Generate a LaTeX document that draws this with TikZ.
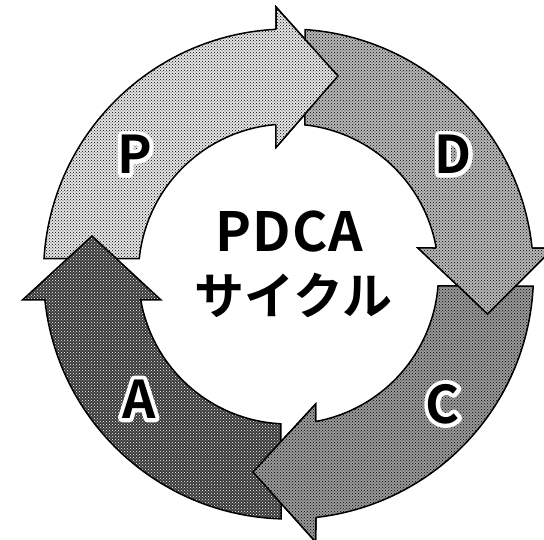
\documentclass[tikz,border=0pt]{standalone}
\usepackage{fontspec}
\newfontfamily\jpfont{Noto Sans CJK JP}[BoldFont={Noto Sans CJK JP Bold}]
\newfontfamily\jpwide{Noto Sans CJK JP}[BoldFont={Noto Sans CJK JP Bold}, LetterSpace=2]
\usetikzlibrary{patterns}

\definecolor{pfill}{gray}{0.90}
\definecolor{dfill}{gray}{0.72}
\definecolor{cfill}{gray}{0.60}
\definecolor{afill}{gray}{0.22}

% white stroked glyphs, for the rim round the letters
\newcommand{\rimtext}[1]{\special{pdf:literal direct 2 Tr 8 w 1 j}#1\special{pdf:literal direct 0 Tr}}

\tikzset{
  ring/.style={draw=black, line width=1.5pt, line join=miter},
  pshade/.style={preaction={fill=pfill}, pattern=crosshatch dots, pattern color=black},
  dshade/.style={preaction={fill=dfill}, pattern=crosshatch dots, pattern color=black},
  cshade/.style={preaction={fill=cfill}, pattern=crosshatch dots, pattern color=black},
  ashade/.style={preaction={fill=afill}, pattern=crosshatch dots, pattern color=white},
  stage/.style={font=\jpfont\bfseries\fontsize{52}{52}\selectfont, inner sep=0pt},
  title/.style={font=\jpwide\bfseries\fontsize{54}{54}\selectfont, inner sep=0pt},
}

\begin{document}
\begin{tikzpicture}[x=1pt,y=1pt]
	\useasboundingbox (-288.5,-266) rectangle (255.5,274);
	% P
	\draw[ring, pshade] (176.4:245) arc[start angle=176.4, end angle=92.9, radius=245]
		-- (-12.5,267) -- (49.5,198) -- (-12.5,126.5)
		-- (94.8:150) arc[start angle=94.8, end angle=174.1, radius=150] -- cycle;
	% D
	\draw[ring, dshade] (86.1:245) arc[start angle=86.1, end angle=6.09, radius=245]
		-- (265,26) -- (199,-40) -- (129.5,26)
		-- (9.98:150) arc[start angle=9.98, end angle=83.7, radius=150] -- cycle;
	% C
	\draw[ring, cshade] (-2.81:245) arc[start angle=-2.81, end angle=-83.6, radius=245]
		-- (27.2,-268) -- (-35.5,-198) -- (27.2,-130)
		-- (-79.55:150) arc[start angle=-79.55, end angle=-4.59, radius=150] -- cycle;
	% A
	\draw[ring, ashade] (-91.75:245) arc[start angle=-91.75, end angle=-173.91, radius=245]
		-- (-266,-26) -- (-196.5,38) -- (-127.5,-26)
		-- (-170.02:150) arc[start angle=-170.02, end angle=-92.87, radius=150] -- cycle;
	% heads on top of the next tail
	\draw[ring, pshade] (92.9:245) -- (-12.5,267) -- (49.5,198) -- (-12.5,126.5) -- (94.8:150);
	\draw[ring, dshade] (6.09:245) -- (265,26) -- (199,-40) -- (129.5,26) -- (9.98:150);
	\draw[ring, cshade] (-83.6:245) -- (27.2,-268) -- (-35.5,-198) -- (27.2,-130) -- (-79.55:150);

	% letters with a white rim
	\foreach \lbl/\x/\y in {P/-154/119.6, D/164.5/119.6, C/154/-130, A/-149.7/-125} {
		\node[stage, text=white] (rim\lbl) at (\x,\y) {\rimtext{\lbl}};
		\node[stage] (stage\lbl) at (\x,\y) {\lbl};
	}

	\node[title] (cycletop) at (1,42.5) {PDCA};
	\node[title, font=\jpfont\bfseries\fontsize{50}{50}\selectfont] (cyclebot) at (5,-21) {サイクル};
\end{tikzpicture}
\end{document}
